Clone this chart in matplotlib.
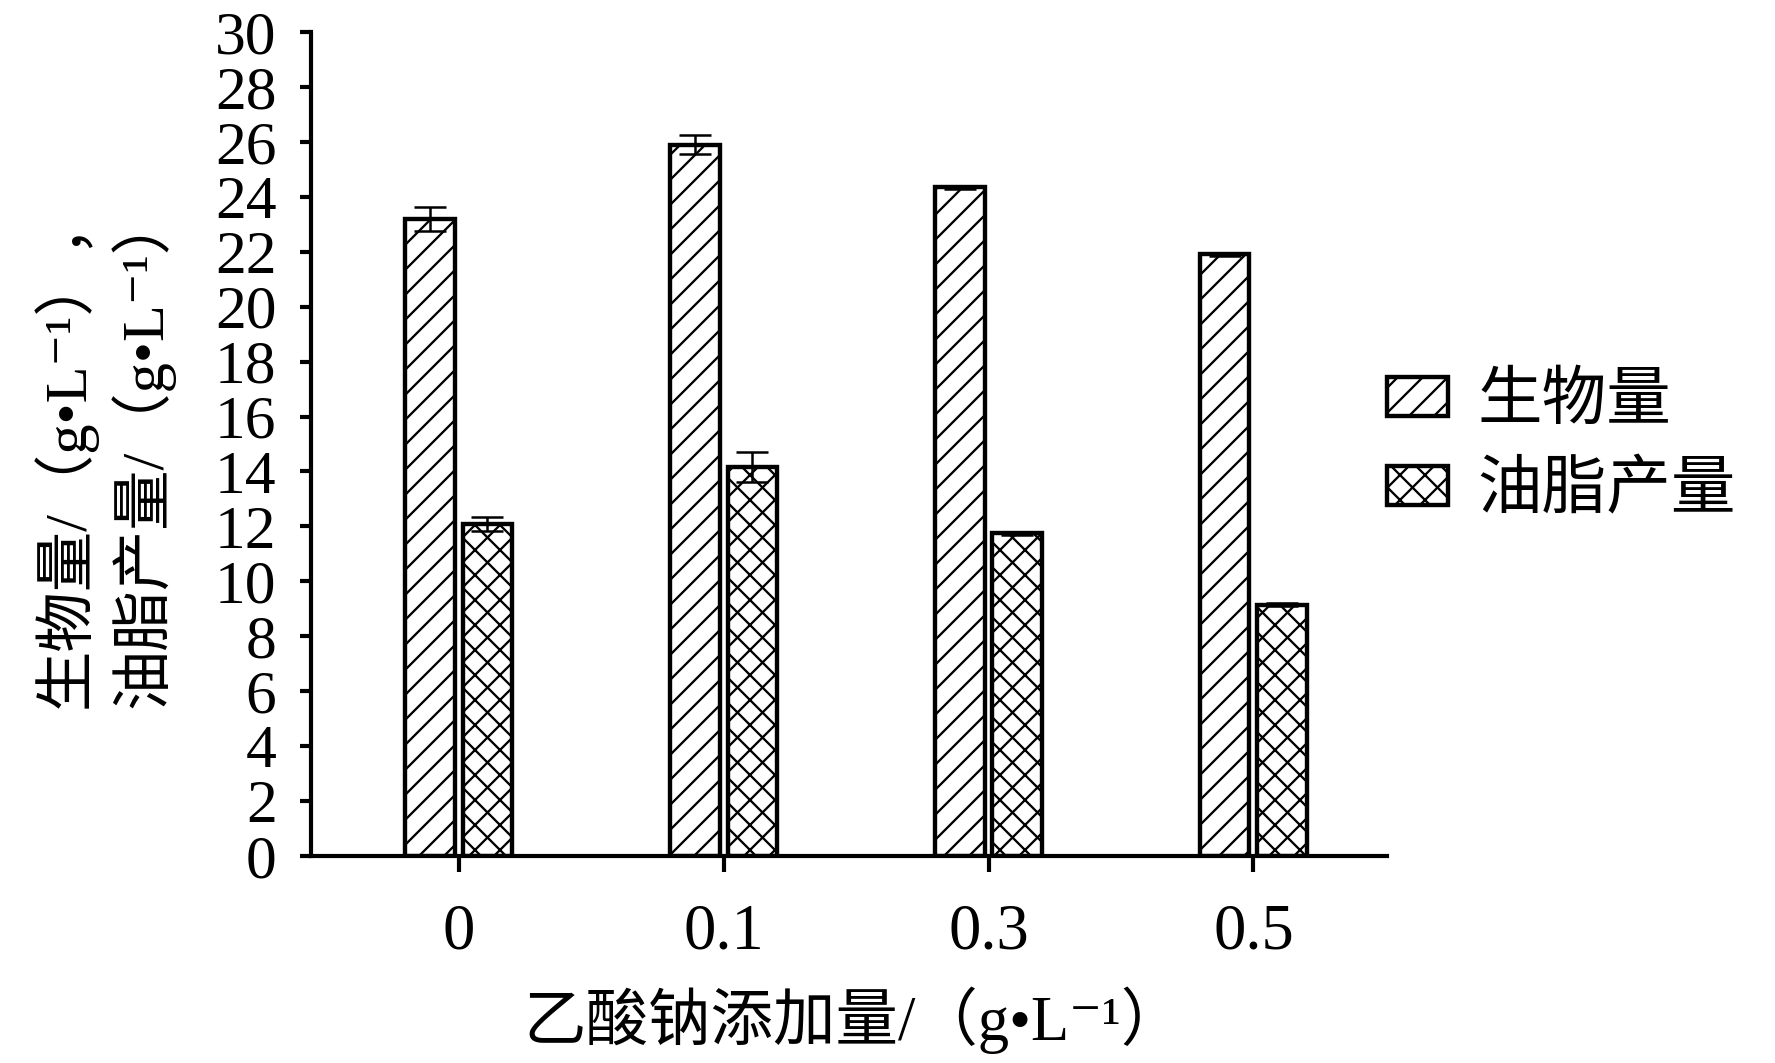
import numpy as np
import matplotlib
matplotlib.use('Agg')
import matplotlib.pyplot as plt

# Data
categories = ["0", "0.1", "0.3", "0.5"]
biomass = [23.2, 25.9, 24.35, 21.9]
biomass_err = [0.43, 0.35, 0.05, 0.05]
oil = [12.1, 14.15, 11.75, 9.15]
oil_err = [0.25, 0.55, 0.05, 0.05]
yticks = list(range(0, 31, 2))

fonts = ['Liberation Serif', 'Noto Sans CJK SC', 'DejaVu Serif']
plt.rcParams['font.family'] = fonts
plt.rcParams['hatch.linewidth'] = 1.1
plt.rcParams['hatch.color'] = 'black'

fig = plt.figure(figsize=(1775 / 150, 1063 / 150), dpi=150)
ax = fig.add_axes([311 / 1775, 1 - 856 / 1063, (1387 - 311) / 1775, (856 - 32) / 1063])

x = np.arange(len(categories))
width = 0.188
off = 0.109

err_kw = dict(ecolor='black', elinewidth=1.2, capsize=7.5, capthick=1.2)
ax.bar(x - off, biomass, width, yerr=biomass_err, color='white', edgecolor='black',
       linewidth=2.1, hatch='//', label='生物量', error_kw=err_kw)
ax.bar(x + off, oil, width, yerr=oil_err, color='white', edgecolor='black',
       linewidth=2.1, hatch='xx', label='油脂产量', error_kw=err_kw)

ax.set_xlim(-0.557, 3.504)
ax.set_ylim(0, 30)
ax.set_yticks(yticks)
ax.set_xticks(x)
ax.set_xticklabels(categories)

for s in ['top', 'right']:
    ax.spines[s].set_visible(False)
for s in ['left', 'bottom']:
    ax.spines[s].set_linewidth(2.0)

ax.tick_params(axis='y', direction='out', length=5.5, width=2.0, pad=11, labelsize=29.5)
ax.tick_params(axis='x', direction='out', length=7.5, width=2.0, pad=15, labelsize=31)

fig.text(0.058, 0.577, '生物量/（g•L⁻¹），\n油脂产量/（g•L⁻¹）', rotation=90,
         ha='center', va='center', fontsize=29, linespacing=1.25, multialignment='center')
fig.text(0.481, 0.04, '乙酸钠添加量/（g•L⁻¹）', ha='center', va='center', fontsize=30)

fig.legend(loc='center left', bbox_to_anchor=(1387 / 1775, 1 - 448 / 1063), frameon=False,
           fontsize=31, handlelength=0.95, handleheight=0.55, handletextpad=0.45,
           labelspacing=0.45, borderpad=0, borderaxespad=0)

fig.savefig('out.png', dpi=150, facecolor='white')
